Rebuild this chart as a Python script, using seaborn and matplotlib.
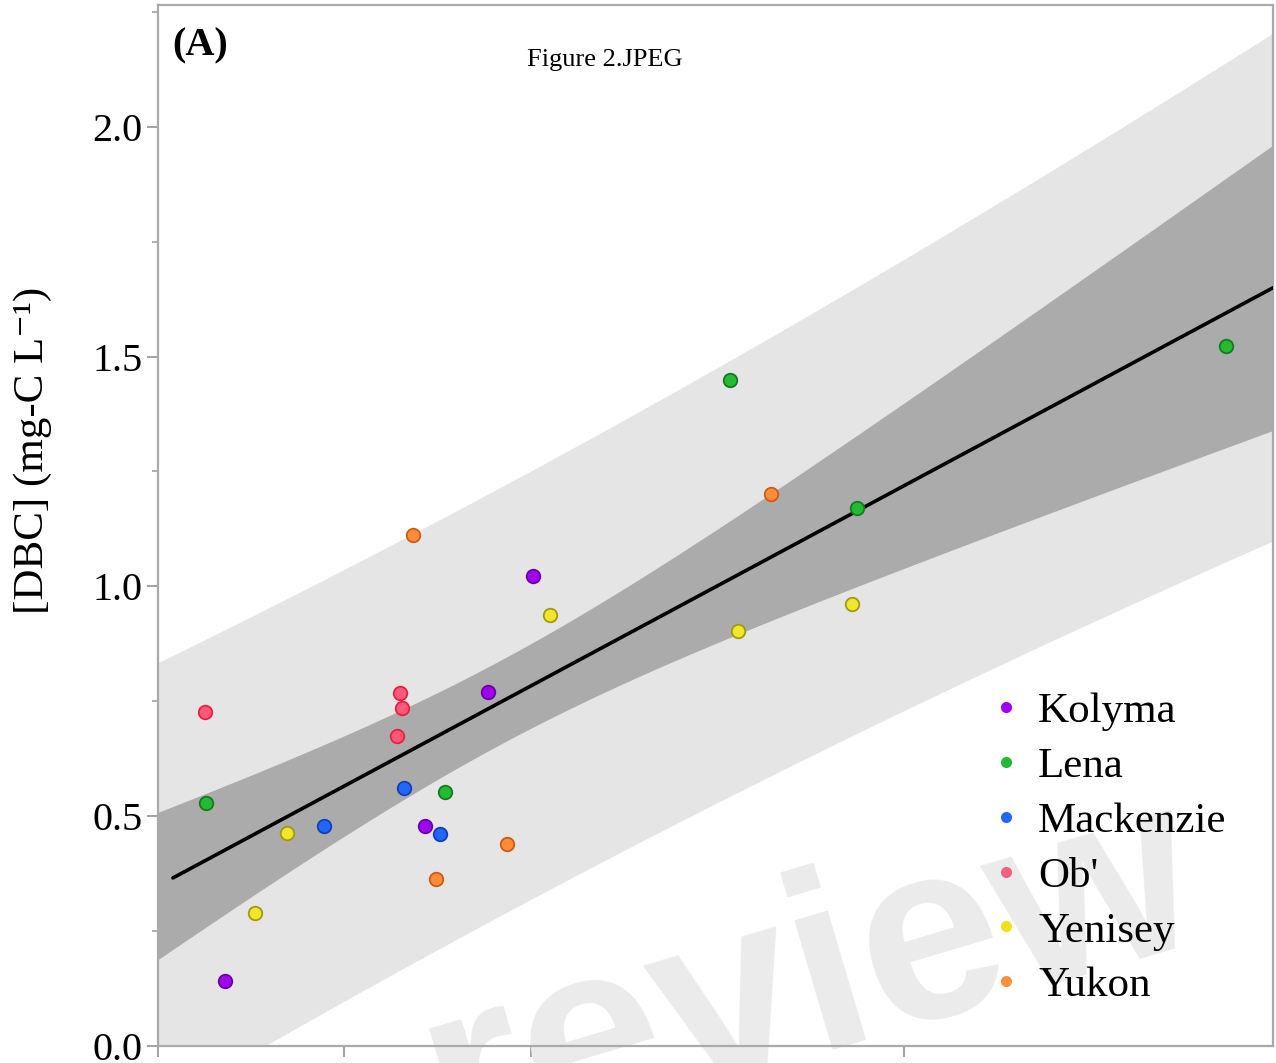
import numpy as np
import pandas as pd
import matplotlib
matplotlib.use("Agg")
import matplotlib.pyplot as plt
from matplotlib.lines import Line2D
from matplotlib.ticker import MultipleLocator, NullFormatter
import seaborn as sns

# ---------------- data ----------------
rivers = ["Kolyma", "Lena", "Mackenzie", "Ob'", "Yenisey", "Yukon"]

kolyma_x = [0.36, 1.43, 1.77, 2.01]
kolyma_y = [0.141, 0.478, 0.770, 1.022]
lena_x = [0.26, 1.54, 3.07, 3.75, 5.73]
lena_y = [0.528, 0.552, 1.450, 1.170, 1.522]
mackenzie_x = [0.89, 1.32, 1.51]
mackenzie_y = [0.478, 0.561, 0.461]
ob_x = [0.25, 1.30, 1.31, 1.28]
ob_y = [0.726, 0.767, 0.735, 0.674]
yenisey_x = [0.52, 0.69, 2.10, 3.11, 3.72]
yenisey_y = [0.289, 0.463, 0.937, 0.904, 0.961]
yukon_x = [1.37, 1.49, 1.87, 3.29]
yukon_y = [1.111, 0.363, 0.439, 1.202]

xs_by_river = [kolyma_x, lena_x, mackenzie_x, ob_x, yenisey_x, yukon_x]
ys_by_river = [kolyma_y, lena_y, mackenzie_y, ob_y, yenisey_y, yukon_y]

y_ticks = [0.0, 0.5, 1.0, 1.5, 2.0]
y_tick_labels = ["0.0", "0.5", "1.0", "1.5", "2.0"]
x_ticks = [0, 1, 2, 3, 4]

face_colors = {"Kolyma": "#a100f2", "Lena": "#22bb33", "Mackenzie": "#2266ff",
               "Ob'": "#ff5878", "Yenisey": "#f2e52a", "Yukon": "#ff8c3a"}
edge_colors = {"Kolyma": "#6a00a0", "Lena": "#157a20", "Mackenzie": "#1040b0",
               "Ob'": "#e8203f", "Yenisey": "#a09a10", "Yukon": "#d05a10"}
legend_colors = {"Kolyma": "#a000f0", "Lena": "#22bb33", "Mackenzie": "#2266ff",
                 "Ob'": "#f06080", "Yenisey": "#f0e020", "Yukon": "#ff9040"}

df = pd.DataFrame({
    "x": np.concatenate(xs_by_river),
    "y": np.concatenate(ys_by_river),
    "river": np.concatenate([[r] * len(v) for r, v in zip(rivers, xs_by_river)]),
})

# ---------------- style ----------------
sns.set_theme(style="white")
plt.rcParams["font.family"] = ["Liberation Serif", "DejaVu Serif"]
plt.rcParams["text.color"] = "black"
plt.rcParams["axes.labelcolor"] = "black"
plt.rcParams["ytick.labelcolor"] = "black"

fig = plt.figure(figsize=(12.76, 10.63), dpi=100)
ax = fig.add_axes([158 / 1276, 1 - 1046 / 1063, (1273 - 158) / 1276, (1046 - 5) / 1063])

x_min, x_max = 0.0, 5.98
y_min, y_max = 0.0, 2.265

# ---------------- regression with confidence / prediction bands ----------------
X = df["x"].to_numpy()
Y = df["y"].to_numpy()
n = len(X)
slope, intercept = np.polyfit(X, Y, 1)
resid = Y - (slope * X + intercept)
s = np.sqrt(np.sum(resid ** 2) / (n - 2))
xbar = X.mean()
sxx = np.sum((X - xbar) ** 2)
t_crit = 2.0687  # t(0.975, df=23)

grid = np.linspace(x_min, x_max, 300)
fit = slope * grid + intercept
se_mean = s * np.sqrt(1 / n + (grid - xbar) ** 2 / sxx)
se_pred = s * np.sqrt(1 + 1 / n + (grid - xbar) ** 2 / sxx)

ax.fill_between(grid, fit - t_crit * se_pred, fit + t_crit * se_pred,
                color="#e5e5e5", lw=0, zorder=1)
ax.fill_between(grid, fit - t_crit * se_mean, fit + t_crit * se_mean,
                color="#ababab", lw=0, zorder=1.5)

line_x = grid[grid >= 0.08]
sns.lineplot(x=line_x, y=slope * line_x + intercept, ax=ax, color="black",
             lw=2.6, zorder=3)

# watermark
ax.text(0.262, -0.108, "review", transform=ax.transAxes, rotation=16.5,
        rotation_mode="anchor", fontsize=183, fontweight="bold",
        family="Liberation Sans", color="#ebebeb", ha="left", va="baseline",
        zorder=0.8, clip_on=False)

# ---------------- points ----------------
for r in rivers:
    sub = df[df["river"] == r]
    sns.scatterplot(data=sub, x="x", y="y", ax=ax, color=face_colors[r],
                    edgecolor=edge_colors[r], linewidth=1.3, s=95, zorder=4,
                    legend=False)

# ---------------- axes ----------------
ax.set_xlim(x_min, x_max)
ax.set_ylim(y_min, y_max)
ax.set_xticks(x_ticks)
ax.set_xticklabels([])
ax.set_yticks(y_ticks)
ax.set_yticklabels(y_tick_labels, fontsize=29, color="black")
ax.yaxis.set_minor_locator(MultipleLocator(0.25))
ax.yaxis.set_minor_formatter(NullFormatter())
ax.tick_params(axis="both", which="major", direction="out", length=8,
               width=1.3, color="#9a9a9a", pad=3, bottom=True, left=True)
ax.tick_params(axis="y", which="minor", direction="out", length=4,
               width=1.1, color="#9a9a9a", left=True)
for sp in ax.spines.values():
    sp.set_color("#aaaaaa")
    sp.set_linewidth(1.6)
    sp.set_visible(True)

ax.set_xlabel("")
ax.set_ylabel("[DBC] (mg-C L\u207B\u00B9)", fontsize=31,
              ha="center", va="center", color="black")
ax.yaxis.set_label_coords((33 - 158) / 1115, (1046 - 450) / 1041)

# ---------------- legend ----------------
handles = [Line2D([], [], marker="o", linestyle="", markersize=8,
                  markerfacecolor=legend_colors[r], markeredgewidth=0, label=r)
           for r in rivers]
leg = ax.legend(handles=handles, loc="upper left",
                bbox_to_anchor=(993 / 1276, 1 - 692 / 1063),
                bbox_transform=fig.transFigure, frameon=False, fontsize=31,
                handlelength=0.6, handletextpad=0.45, labelspacing=0.365,
                borderpad=0, borderaxespad=0)
for t in leg.get_texts():
    t.set_color("black")

# ---------------- texts ----------------
fig.text(172 / 1276, 1 - 46 / 1063, "(A)", ha="left", va="center",
         fontsize=29, fontweight="bold", color="black")
fig.text(605 / 1276, 1 - 60 / 1063, "Figure 2.JPEG", ha="center", va="center",
         fontsize=19, color="black")

fig.savefig("out.png", dpi=100)
